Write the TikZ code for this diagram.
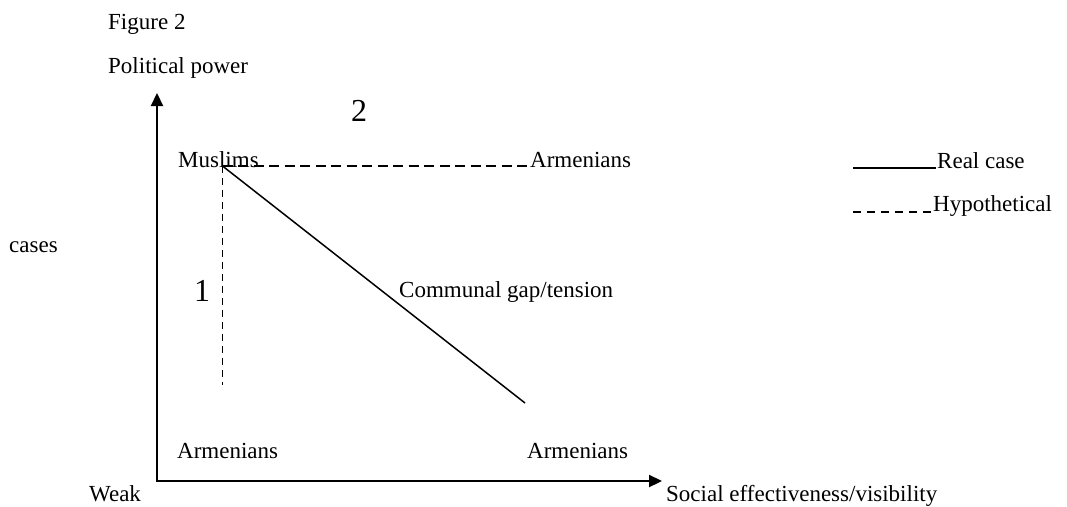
\documentclass[tikz,border=0pt]{standalone}
\usepackage{fontspec}
\setmainfont{Liberation Serif}
\usetikzlibrary{arrows.meta}
\begin{document}
\begin{tikzpicture}[x=1pt,y=-1pt,
  lbl/.style={anchor=base west, inner sep=0pt, font=\fontsize{23}{27}\selectfont},
  big/.style={anchor=base west, inner sep=0pt, font=\fontsize{32}{36}\selectfont},
  axis/.style={line width=2.2pt, {Triangle[length=13pt,width=12pt]}-{Triangle[length=13pt,width=12pt]}},
  real/.style={line width=1.5pt},
  hypo/.style={line width=1.6pt, dash pattern=on 10pt off 5.5pt},
  hypov/.style={line width=1.6pt, dash pattern=on 7pt off 5pt},
  hypoleg/.style={line width=1.6pt, dash pattern=on 8pt off 6pt}]
\useasboundingbox (0,0) rectangle (1067,506);
% texts
\node[lbl] (fig) at (108,29) {Figure 2};
\node[lbl] (pp) at (108,73) {Political power};
\node[big] (two) at (351,121) {2};
\node[lbl] (mus) at (178,167) {Muslims};
\node[lbl] (armT) at (530,167) {Armenians};
\node[lbl] (cases) at (9,252) {cases};
\node[big] (one) at (194,301) {1};
\node[lbl] (cg) at (399,297) {Communal gap/tension};
\node[lbl] (armL) at (177,458) {Armenians};
\node[lbl] (armR) at (527,458) {Armenians};
\node[lbl] (weak) at (89,501) {Weak};
\node[lbl] (soc) at (666,501) {Social effectiveness/visibility};
\node[lbl] (rc) at (937,168) {Real case};
\node[lbl] (hy) at (933,211) {Hypothetical};
% axes
\coordinate (o) at (157,481);
\coordinate (ytip) at (157,93);
\coordinate (xtip) at (662,481);
\draw[axis] (ytip) -- (o) -- (xtip);
% lines
\coordinate (m) at (222.5,166);
\coordinate (a2) at (527,166);
\coordinate (d) at (525,403);
\coordinate (v) at (222.5,385);
\draw[hypo] (m) -- (a2);
\draw[hypov] (m) -- (v);
\draw[real] (m) -- (d);
% legend
\coordinate (l1a) at (853,168);
\coordinate (l1b) at (936,168);
\coordinate (l2a) at (853,212);
\coordinate (l2b) at (931,212);
\draw[real] (l1a) -- (l1b);
\draw[hypoleg] (l2a) -- (l2b);
\end{tikzpicture}
\end{document}
